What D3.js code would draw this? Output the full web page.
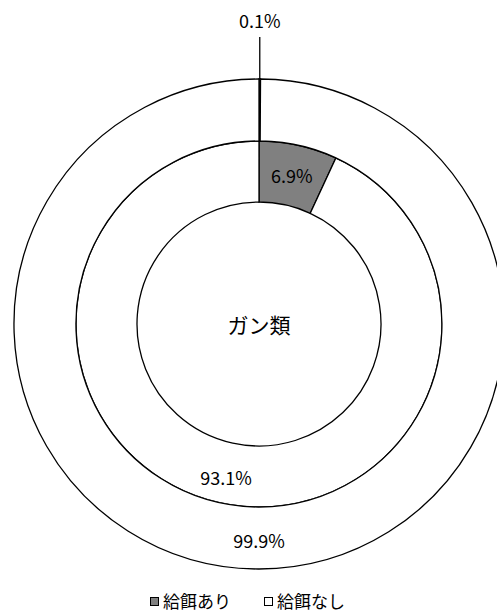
<!DOCTYPE html>
<html><head><meta charset="utf-8">
<script src="https://cdn.jsdelivr.net/npm/d3@7"></script>
<style>body{margin:0;background:#fff}</style>
</head><body>
<script>
const categories = ["給餌あり", "給餌なし"];
const innerValues = [6.9, 93.1];
const outerValues = [0.1, 99.9];
const centerLabel = "ガン類";
const colors = ["#808080", "#ffffff"];

const W = 497, H = 614;
const cx = 259, cy = 324;
const r0 = 122, r1 = 183, r2 = 245;
const font = "'Noto Sans CJK JP', sans-serif";

const svg = d3.select("body").append("svg").attr("width", W).attr("height", H)
  .style("font-family", font);
const g = svg.append("g").attr("transform", `translate(${cx},${cy})`);
const pie = d3.pie().sort(null).value(d => d);
const color = d3.scaleOrdinal().domain([0,1]).range(colors);

function ring(values, ri, ro) {
  const arcs = pie(values);
  const arc = d3.arc().innerRadius(ri).outerRadius(ro);
  g.append("g").selectAll("path").data(arcs).enter().append("path")
    .attr("d", arc).attr("fill", (d,i) => color(i))
    .attr("stroke", "#000").attr("stroke-width", 1.3);
  return arcs;
}
const innerArcs = ring(innerValues, r0, r1);
const outerArcs = ring(outerValues, r1, r2);

const fmt = v => v.toFixed(1) + "%";
const lab = (x, y, t) => g.append("text").attr("x", x).attr("y", y)
  .attr("text-anchor", "middle").attr("dominant-baseline", "central")
  .attr("font-size", 18).attr("fill", "#000").text(t);

// inner ring labels
const innerMid = d3.arc().innerRadius((r0+r1)/2).outerRadius((r0+r1)/2);
const c0 = innerMid.centroid(innerArcs[0]);
lab(c0[0], c0[1], fmt(innerValues[0]));
lab(-33, 153, fmt(innerValues[1]));

// outer ring labels
const a1 = outerArcs[0];
const midA = (a1.startAngle + a1.endAngle) / 2;
const px = r2 * Math.sin(midA);
g.append("line").attr("x1", px).attr("y1", -r2).attr("x2", px).attr("y2", -287)
  .attr("stroke", "#000").attr("stroke-width", 1.3);
lab(px, -304, fmt(outerValues[0]));
lab(0, 216, fmt(outerValues[1]));

// center
g.append("text").attr("x", 0).attr("y", 0).attr("text-anchor", "middle")
  .attr("dominant-baseline", "central").attr("font-size", 21).text(centerLabel);

// legend
const legX = [150, 264];
const leg = svg.append("g");
categories.forEach((c, i) => {
  leg.append("rect").attr("x", legX[i] + 0.5).attr("y", 597.5).attr("width", 8).attr("height", 8)
    .attr("fill", colors[i]).attr("stroke", "#000").attr("stroke-width", 1);
  leg.append("text").attr("x", legX[i] + 13).attr("y", 600).attr("dominant-baseline", "central")
    .attr("font-size", 17).text(c);
});
</script>
</body></html>
